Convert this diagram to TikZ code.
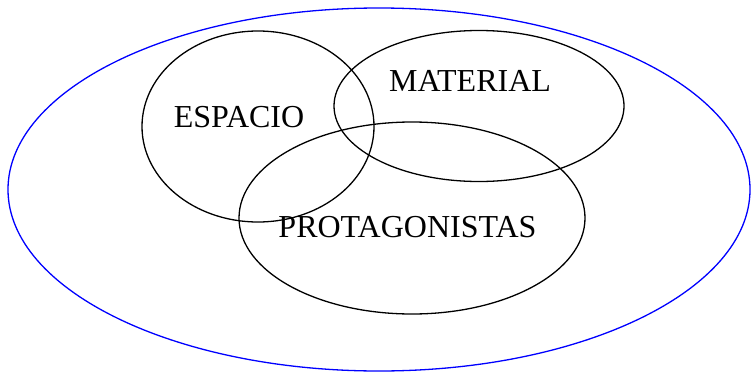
\documentclass[tikz,border=0pt]{standalone}
\usepackage{fontspec}
\setmainfont{Liberation Serif}
\usetikzlibrary{shapes.geometric}
\begin{document}
\begin{tikzpicture}[x=1pt,y=-1pt,
  set/.style={draw=black,line width=1.3pt,ellipse,inner sep=0pt},
  outer/.style={draw=blue,line width=1.3pt,ellipse,inner sep=0pt},
  lbl/.style={anchor=base,inner sep=0pt,font=\fontsize{32}{38}\selectfont}]
\useasboundingbox (0,0) rectangle (751,372);
\node[outer,minimum width=742pt,minimum height=363pt] (universe) at (379,189.5) {};
\node[set,minimum width=232pt,minimum height=191pt] (espacio) at (258,126.5) {};
\node[set,minimum width=290pt,minimum height=151pt] (material) at (479,106) {};
\node[set,minimum width=346pt,minimum height=192pt] (protag) at (412,218) {};
\node[lbl] (tespacio) at (239,127) {ESPACIO};
\node[lbl] (tmaterial) at (470,91) {MATERIAL};
\node[lbl] (tprotag) at (407.5,237) {PROTAGONISTAS};
\end{tikzpicture}
\end{document}
